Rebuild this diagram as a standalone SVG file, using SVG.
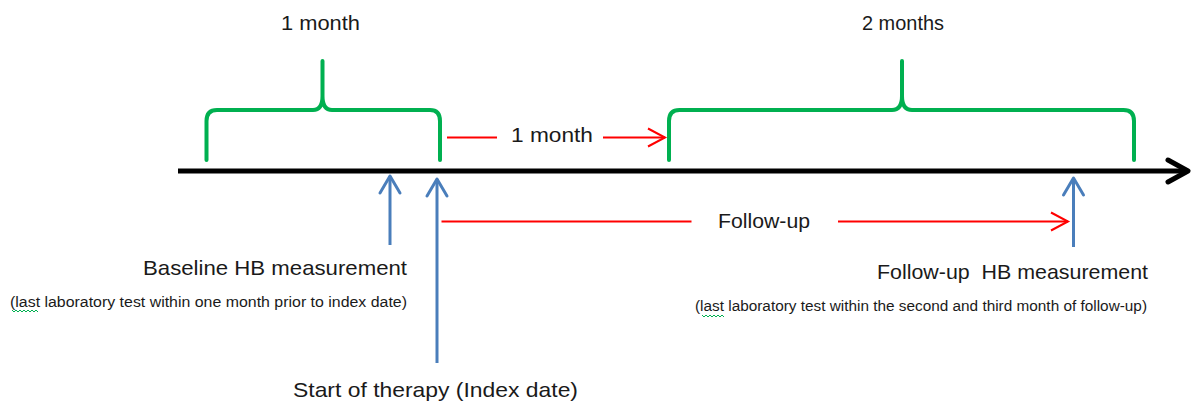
<svg xmlns="http://www.w3.org/2000/svg" width="1197" height="402" viewBox="0 0 1197 402">
<style>
.brace{fill:none;stroke:#00B050;stroke-width:4;stroke-linecap:round;stroke-linejoin:round}
.red{fill:none;stroke:#FF0000;stroke-width:2}
.blue{fill:none;stroke:#4A7EBB;stroke-width:3}
.axis{fill:none;stroke:#000;stroke-width:5}
.lbl{font-family:"Liberation Sans",Arial,sans-serif;font-size:21px;fill:#1a1a1a}
.sm{font-family:"Liberation Sans",Arial,sans-serif;font-size:14px;fill:#1a1a1a}
.squig{fill:none;stroke:#00B050;stroke-width:1}
</style>
<defs>
<marker id="axHead" markerUnits="userSpaceOnUse" markerWidth="30" markerHeight="30" viewBox="-25 -15 30 30" refX="0" refY="0" orient="auto">
<path d="M-20,-11 L0,0 L-20,11" fill="none" stroke="#000" stroke-width="5" stroke-linecap="round" stroke-linejoin="round"/>
</marker>
<marker id="redHead" markerUnits="userSpaceOnUse" markerWidth="24" markerHeight="24" viewBox="-20 -12 24 24" refX="0" refY="0" orient="auto">
<path d="M-17,-9 L0,0 L-17,9" fill="none" stroke="#FF0000" stroke-width="2"/>
</marker>
<marker id="blueHead" markerUnits="userSpaceOnUse" markerWidth="26" markerHeight="26" viewBox="-21 -13 26 26" refX="0" refY="0" orient="auto">
<path d="M-17,-10 L0,0 L-17,10" fill="none" stroke="#4A7EBB" stroke-width="3" stroke-linecap="round" stroke-linejoin="round"/>
</marker>
</defs>
<rect width="1197" height="402" fill="#fff"/>

<g id="connectors">
<line class="axis" x1="178" y1="171" x2="1188" y2="171" marker-end="url(#axHead)"/>
<line class="red" x1="447" y1="137.5" x2="497" y2="137.5"/>
<line class="red" x1="603" y1="137.5" x2="665" y2="137.5" marker-end="url(#redHead)"/>
<line class="red" x1="441.5" y1="221.5" x2="691.5" y2="221.5"/>
<line class="red" x1="838" y1="221.5" x2="1068" y2="221.5" marker-end="url(#redHead)"/>
<line class="blue" x1="390" y1="245" x2="390" y2="176" marker-end="url(#blueHead)"/>
<line class="blue" x1="437" y1="363" x2="437" y2="179" marker-end="url(#blueHead)"/>
<line class="blue" x1="1073.5" y1="247" x2="1073.5" y2="178" marker-end="url(#blueHead)"/>
</g>

<g id="brace-baseline">
<path class="brace" d="M206.5,160 V121 Q206.5,110 217,110 H313 Q322.5,110 322.5,96 V61 M322.5,96 Q322.5,110 332,110 H430 Q440,110 440,121 V160"/>
<text class="lbl" x="281" y="30" textLength="79" lengthAdjust="spacingAndGlyphs">1 month</text>
</g>

<g id="brace-followup">
<path class="brace" d="M669,160 V121 Q669,110 679.5,110 H892 Q902,110 902,96 V61 M902,96 Q902,110 912,110 H1123.5 Q1134,110 1134,121 V160"/>
<text class="lbl" x="862" y="30" textLength="82" lengthAdjust="spacingAndGlyphs">2 months</text>
</g>

<g id="gap-label">
<text class="lbl" x="511" y="142" textLength="82" lengthAdjust="spacingAndGlyphs">1 month</text>
</g>

<g id="followup-label">
<text class="lbl" x="718" y="228" textLength="92" lengthAdjust="spacingAndGlyphs">Follow-up</text>
</g>

<g id="baseline-measurement">
<text class="lbl" x="143" y="275" textLength="264" lengthAdjust="spacingAndGlyphs">Baseline HB measurement</text>
<text class="sm" x="10" y="307" textLength="397" lengthAdjust="spacingAndGlyphs">(last laboratory test within one month prior to index date)</text>
<path class="squig" d="M12,310 l2,2 l2,-2 l2,2 l2,-2 l2,2 l2,-2 l2,2 l2,-2 l2,2 l2,-2 l2,2 l2,-2 l2,2"/>
</g>

<g id="start-therapy">
<text class="lbl" x="293" y="397" textLength="285" lengthAdjust="spacingAndGlyphs">Start of therapy (Index date)</text>
</g>

<g id="followup-measurement">
<text class="lbl" x="877" y="279" textLength="271" lengthAdjust="spacingAndGlyphs" xml:space="preserve">Follow-up  HB measurement</text>
<text class="sm" x="695" y="311" textLength="452" lengthAdjust="spacingAndGlyphs">(last laboratory test within the second and third month of follow-up)</text>
<path class="squig" d="M702,315 l2,2 l2,-2 l2,2 l2,-2 l2,2 l2,-2 l2,2 l2,-2 l2,2 l2,-2 l2,2"/>
</g>
</svg>
